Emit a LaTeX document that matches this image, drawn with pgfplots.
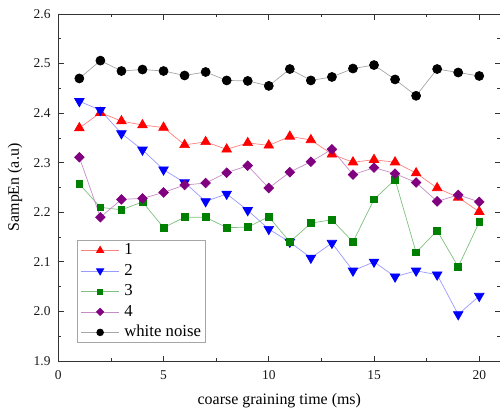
\documentclass[border=0pt]{standalone}
\usepackage{fontspec}
\setmainfont{Liberation Serif}
\usepackage{pgfplots}
\pgfplotsset{compat=1.18}
\definecolor{c1}{RGB}{255,0,0}
\definecolor{c2}{RGB}{0,0,255}
\definecolor{c3}{RGB}{0,128,0}
\definecolor{c4}{RGB}{128,0,128}

\begin{document}
\begin{tikzpicture}
\begin{axis}[scale only axis, width=442bp, height=347bp,
  xmin=0, xmax=21, ymin=1.9, ymax=2.6,
  xtick={0,5,10,15,20}, minor xtick={2.5,7.5,12.5,17.5},
  ytick={1.9,2.0,2.1,2.2,2.3,2.4,2.5,2.6},
  minor ytick={1.95,2.05,2.15,2.25,2.35,2.45,2.55},
  tick align=inside, major tick length=5.5bp, minor tick length=3bp,
  axis line style={line width=1bp, black!80},
  every tick/.style={black!80, line width=0.8bp},
  /pgf/number format/assume math mode=true,
  tick label style={font=\fontsize{13.5}{15}\selectfont, text=black!90,
    inner sep=0pt},
  xticklabel shift=9bp, yticklabel shift=7.6bp,
  yticklabel style={/pgf/number format/.cd, fixed, fixed zerofill,
    precision=1},
  label style={font=\fontsize{16}{18}\selectfont},
  xlabel={coarse graining time (ms)}, ylabel={SampEn (a.u)},
  xlabel style={at={(axis description cs:0.5,-0.113)}, anchor=center},
  ylabel style={at={(axis description cs:-0.098,0.5)}, anchor=center},
  legend cell align=left,
  legend image code/.code={\draw[mark repeat=2, mark phase=2, #1,
    every mark/.append style={scale=0.75}] plot coordinates
    {(0bp,0bp) (18.8bp,0bp) (37.6bp,0bp)};},
  legend style={at={(0.0416,0.052)}, anchor=south west, draw=black!35,
    line width=0.6bp, fill=white, font=\fontsize{16.8}{18}\selectfont,
    inner xsep=4bp, inner ysep=2.5bp, row sep=5bp, column sep=5bp,
    nodes={inner sep=0bp, text height=12bp, text depth=3.5bp}},
  every axis plot/.append style={line width=0.7bp}]

\addplot[c1!50, mark=triangle*, mark size=5.5bp,
  mark options={draw=c1, fill=c1}] coordinates {
  (1,2.370) (2,2.401) (3,2.384) (4,2.376) (5,2.371) (6,2.336) (7,2.342)
  (8,2.327) (9,2.340) (10,2.335) (11,2.353) (12,2.346) (13,2.317)
  (14,2.301) (15,2.306) (16,2.301) (17,2.279) (18,2.249) (19,2.230)
  (20,2.201)};
\addlegendentry{1}
\addplot[c2!40, mark=triangle*, mark size=5.5bp,
  mark options={draw=c2, fill=c2, rotate=180}] coordinates {
  (1,2.424) (2,2.406) (3,2.359) (4,2.326) (5,2.286) (6,2.260) (7,2.222)
  (8,2.237) (9,2.204) (10,2.166) (11,2.140) (12,2.108) (13,2.138)
  (14,2.082) (15,2.100) (16,2.070) (17,2.082) (18,2.074) (19,1.994)
  (20,2.031)};
\addlegendentry{2}
\addplot[c3!50, mark=square*, mark size=3.4bp,
  mark options={draw=c3, fill=c3}] coordinates {
  (1,2.257) (2,2.210) (3,2.205) (4,2.221) (5,2.169) (6,2.190) (7,2.190)
  (8,2.169) (9,2.170) (10,2.191) (11,2.140) (12,2.178) (13,2.185)
  (14,2.140) (15,2.226) (16,2.266) (17,2.119) (18,2.163) (19,2.090)
  (20,2.180)};
\addlegendentry{3}
\addplot[c4!45, mark=square*, mark size=3.4bp,
  mark options={draw=c4, fill=c4, rotate=45}] coordinates {
  (1,2.311) (2,2.190) (3,2.226) (4,2.228) (5,2.240) (6,2.255) (7,2.259)
  (8,2.280) (9,2.294) (10,2.249) (11,2.281) (12,2.302) (13,2.327)
  (14,2.276) (15,2.290) (16,2.278) (17,2.260) (18,2.222) (19,2.235)
  (20,2.221)};
\addlegendentry{4}
\addplot[black!35, mark=*, mark size=4.5bp,
  mark options={draw=black, fill=black}] coordinates {
  (1,2.470) (2,2.506) (3,2.485) (4,2.488) (5,2.485) (6,2.476) (7,2.483)
  (8,2.466) (9,2.465) (10,2.455) (11,2.489) (12,2.466) (13,2.473)
  (14,2.490) (15,2.497) (16,2.468) (17,2.435) (18,2.489) (19,2.482)
  (20,2.475)};
\addlegendentry{white noise}
\end{axis}
\pgfresetboundingbox
\useasboundingbox (-58.3bp,-50bp) rectangle (441.7bp,361bp);
\end{tikzpicture}
\end{document}
